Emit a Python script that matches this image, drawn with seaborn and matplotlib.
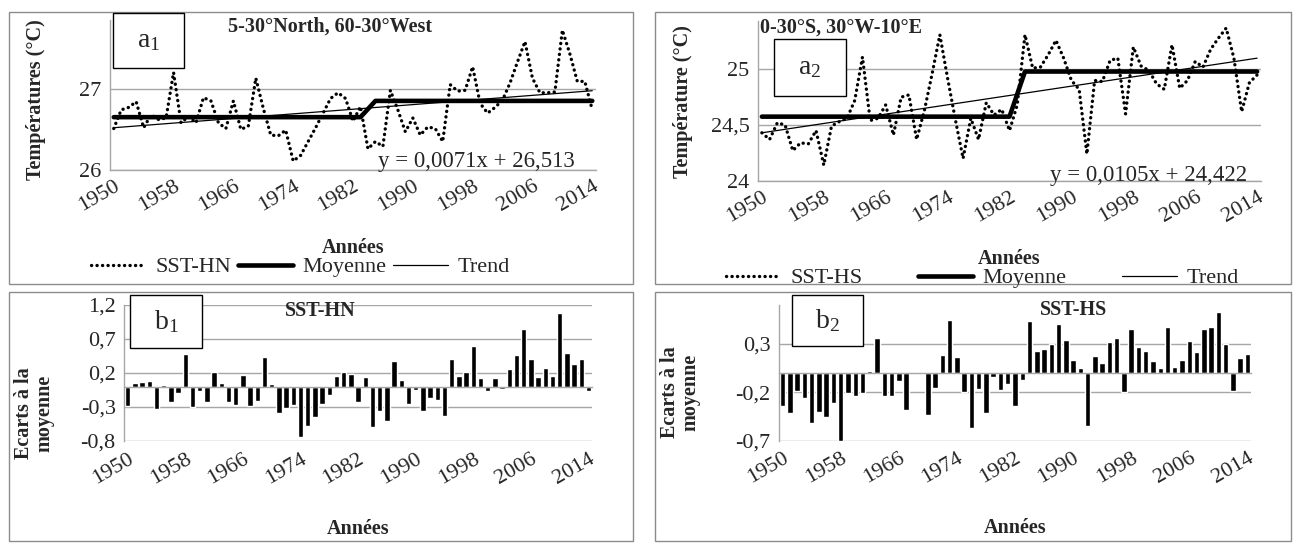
import numpy as np
import matplotlib
matplotlib.use("Agg")
import matplotlib.pyplot as plt
import seaborn as sns
from matplotlib.patches import Rectangle

# ---------------- data ----------------
years = list(range(1950, 2015))
label_years = list(range(1950, 2015, 8))

sst_hn = [26.51, 26.74, 26.77, 26.84, 26.52, 26.68, 26.62, 26.64, 27.20, 26.58,
          26.66, 26.58, 26.89, 26.85, 26.58, 26.51, 26.85, 26.50, 26.54, 27.13,
          26.76, 26.43, 26.42, 26.49, 26.11, 26.18, 26.35, 26.52, 26.70, 26.88,
          26.95, 26.88, 26.60, 26.78, 26.26, 26.35, 26.29, 26.98, 26.74, 26.47,
          26.64, 26.43, 26.53, 26.51, 26.35, 27.05, 26.97, 26.98, 27.27, 26.82,
          26.70, 26.77, 26.86, 27.07, 27.33, 27.58, 27.13, 26.95, 26.95, 26.96,
          27.72, 27.43, 27.09, 27.09, 26.74]

sst_hs = [24.43, 24.37, 24.52, 24.50, 24.27, 24.34, 24.33, 24.45, 24.14, 24.49,
          24.53, 24.56, 24.72, 25.11, 24.54, 24.56, 24.68, 24.41, 24.75, 24.77,
          24.37, 24.63, 24.96, 25.31, 24.92, 24.55, 24.20, 24.56, 24.37, 24.70,
          24.59, 24.64, 24.45, 24.68, 25.31, 25.01, 25.02, 25.13, 25.26, 25.10,
          24.90, 24.82, 24.24, 24.90, 24.89, 25.08, 25.10, 24.60, 25.20, 25.03,
          24.99, 24.87, 24.82, 25.22, 24.83, 24.90, 25.07, 25.02, 25.18, 25.28,
          25.37, 25.10, 24.62, 24.88, 24.95]

ecart_hn = [-0.28, 0.06, 0.07, 0.08, -0.33, 0.02, -0.22, -0.10, 0.48, -0.30,
            -0.07, -0.23, 0.22, 0.06, -0.22, -0.27, 0.17, -0.29, -0.21, 0.44,
            0.04, -0.39, -0.32, -0.27, -0.74, -0.58, -0.45, -0.25, -0.13, 0.16,
            0.21, 0.18, -0.23, 0.14, -0.60, -0.36, -0.50, 0.38, 0.09, -0.25,
            -0.05, -0.36, -0.17, -0.20, -0.43, 0.41, 0.15, 0.21, 0.60, 0.12,
            -0.07, 0.12, -0.03, 0.26, 0.47, 0.84, 0.41, 0.14, 0.27, 0.15,
            1.08, 0.50, 0.33, 0.40, -0.06]

ecart_hs = [-0.34, -0.41, -0.19, -0.26, -0.52, -0.40, -0.46, -0.31, -0.70, -0.21,
            -0.24, -0.21, 0.02, 0.36, -0.24, -0.24, -0.08, -0.38, -0.01, 0.01,
            -0.43, -0.15, 0.19, 0.55, 0.17, -0.20, -0.57, -0.17, -0.41, -0.04,
            -0.18, -0.11, -0.34, -0.07, 0.54, 0.23, 0.25, 0.30, 0.51, 0.34,
            0.13, 0.055, -0.55, 0.18, 0.10, 0.32, 0.36, -0.20, 0.46, 0.27,
            0.23, 0.12, 0.05, 0.48, 0.06, 0.13, 0.33, 0.22, 0.45, 0.48,
            0.63, 0.30, -0.19, 0.15, 0.20]

moy_hn_years = [1950, 1983, 1985, 2014]
moy_hn_vals = [26.65, 26.65, 26.85, 26.85]
moy_hs_years = [1950, 1982, 1984, 2014]
moy_hs_vals = [24.575, 24.575, 24.98, 24.98]

trend_years = [1950, 2014]
trend_hn = [26.52, 26.975]
trend_hs = [24.43, 25.10]

a1_yticks = [26, 27]
a1_yticklabels = ["26", "27"]
a2_yticks = [24, 24.5, 25]
a2_yticklabels = ["24", "24,5", "25"]
b1_yticks = [-0.8, -0.3, 0.2, 0.7, 1.2]
b1_yticklabels = ["-0,8", "-0,3", "0,2", "0,7", "1,2"]
b2_yticks = [-0.7, -0.2, 0.3]
b2_yticklabels = ["-0,7", "-0,2", "0,3"]

# ---------------- style ----------------
sns.set_style("white")
plt.rcParams["font.family"] = ["Liberation Serif", "DejaVu Serif"]
plt.rcParams["mathtext.fontset"] = "custom"
plt.rcParams["mathtext.rm"] = "Liberation Serif"
plt.rcParams["axes.unicode_minus"] = False

W, H = 1296, 545
fig = plt.figure(figsize=(W / 100, H / 100), dpi=100)
fig.patch.set_facecolor("white")

GRID = "#a6a6a6"
AXC = "#a6a6a6"
FRAME = "#8c8c8c"
TICKFS = 16
LABFS = 14.5


def rect(x0, y0, x1, y1):
    return [x0 / W, 1 - y1 / H, (x1 - x0) / W, (y1 - y0) / H]


def fx(x):
    return x / W


def fy(y):
    return 1 - y / H


# chart-area frames
for (x0, y0, x1, y1) in [(9, 12, 633, 284), (655, 12, 1291, 284),
                         (9, 292, 633, 541), (655, 292, 1291, 541)]:
    fig.add_artist(Rectangle((fx(x0), fy(y1)), (x1 - x0) / W, (y1 - y0) / H,
                             transform=fig.transFigure, fill=False,
                             ec=FRAME, lw=1, zorder=-1))


def style_common(ax):
    for s in ["top", "right"]:
        ax.spines[s].set_visible(False)
    ax.spines["left"].set_color(AXC)
    ax.spines["bottom"].set_color(AXC)
    ax.spines["left"].set_linewidth(1)
    ax.spines["bottom"].set_linewidth(1)
    ax.yaxis.grid(True, color=GRID, lw=1)
    ax.xaxis.grid(False)
    ax.set_axisbelow(True)
    ax.set_facecolor("none")
    ax.tick_params(axis="y", length=0, labelsize=TICKFS, pad=6)


def line_panel(px, sst, sst_label, moy_y, moy_v, trend_v, ylim, yt, ytl, xlab_y):
    ax = fig.add_axes(rect(*px))
    sns.lineplot(x=years, y=sst, ax=ax, color="black", lw=2.4,
                 linestyle=(0, (0.05, 1.6)), dash_capstyle="round",
                 label=sst_label, legend=False)
    sns.lineplot(x=moy_y, y=moy_v, ax=ax, color="black", lw=3.3,
                 label="Moyenne", legend=False)
    sns.lineplot(x=trend_years, y=trend_v, ax=ax, color="black", lw=0.9,
                 label="Trend", legend=False)
    ax.set_xlim(1949.5, 2014.5)
    ax.set_ylim(*ylim)
    ax.set_yticks(yt, ytl)
    ax.set_xticks(label_years, [str(y) for y in label_years])
    ax.set_xticks(np.arange(1949.5, 2015, 1), minor=True)
    style_common(ax)
    ax.tick_params(axis="x", which="major", length=0, labelsize=TICKFS, pad=5)
    ax.tick_params(axis="x", which="minor", length=5, color=AXC, width=1,
                   direction="out")
    for t in ax.get_xticklabels():
        t.set_rotation(30)
        t.set_ha("right")
        t.set_rotation_mode("anchor")
    ax.set_ylabel("")
    ax.set_xlabel("Années", fontsize=LABFS, fontweight="bold")
    ax.xaxis.set_label_coords(0.5, xlab_y)
    return ax


def bar_panel(px, vals, ylim, yt, ytl, xlab_y):
    ax = fig.add_axes(rect(*px))
    ax.set_zorder(2)
    sns.barplot(x=years, y=vals, ax=ax, color="black", saturation=1,
                width=0.75, errorbar=None)
    ax.set_xlim(-0.5, 64.5)
    ax.set_ylim(*ylim)
    ax.set_yticks(yt, ytl)
    style_common(ax)
    ax.spines["bottom"].set_position(("data", 0))
    ax.set_xticks(list(range(0, 65, 8)))
    ax.set_xticks(np.arange(-0.5, 65, 1), minor=True)
    ax.tick_params(axis="x", which="major", length=0, labelbottom=False)
    ax.tick_params(axis="x", which="minor", length=6, color=AXC, width=1,
                   direction="out")
    sec = ax.secondary_xaxis("bottom")
    sec.set_ticks(list(range(0, 65, 8)), [str(y) for y in label_years])
    sec.tick_params(length=0, labelsize=TICKFS, pad=6)
    sec.spines["bottom"].set_visible(False)
    for t in sec.get_xticklabels():
        t.set_rotation(30)
        t.set_ha("right")
        t.set_rotation_mode("anchor")
    ax.set_ylabel("")
    ax.set_xlabel("Années", fontsize=LABFS, fontweight="bold")
    ax.xaxis.set_label_coords(0.5, xlab_y)
    return ax


ax_a1 = line_panel((110, 19.6, 596, 170), sst_hn, "SST-HN", moy_hn_years, moy_hn_vals,
                   trend_hn, (26, 27.85), a1_yticks, a1_yticklabels, -0.45)
ax_a2 = line_panel((758, 21.4, 1261, 180.7), sst_hs, "SST-HS", moy_hs_years, moy_hs_vals,
                   trend_hs, (24, 25.43), a2_yticks, a2_yticklabels, -0.43)
ax_b1 = bar_panel((124, 305, 592, 441), ecart_hn, (-0.8, 1.2), b1_yticks,
                  b1_yticklabels, -0.57)
ax_b2 = bar_panel((779, 305.3, 1251, 440.7), ecart_hs, (-0.7, 0.7), b2_yticks,
                  b2_yticklabels, -0.57)

# legends
fig.legend(handles=ax_a1.get_lines()[:3], labels=["SST-HN", "Moyenne", "Trend"],
           loc="center", bbox_to_anchor=(fx(300), fy(267)), ncol=3, frameon=False,
           fontsize=16, handlelength=2.5, handletextpad=0.4, columnspacing=0.3)
fig.legend(handles=ax_a2.get_lines()[:3], labels=["SST-HS", "Moyenne", "Trend"],
           loc="center", bbox_to_anchor=(fx(982), fy(278)), ncol=3, frameon=False,
           fontsize=16, handlelength=2.5, handletextpad=0.4, columnspacing=2.5)

# y labels
fig.text(fx(36), fy(100), "Températures (°C)", rotation=90, ha="center", va="center",
         fontsize=LABFS, fontweight="bold")
fig.text(fx(683), fy(102), "Température (°C)", rotation=90, ha="center", va="center",
         fontsize=LABFS, fontweight="bold")
fig.text(fx(34), fy(413), "Ecarts à la\nmoyenne", rotation=90, ha="center", va="center",
         fontsize=LABFS, fontweight="bold", multialignment="center", linespacing=1.0)
fig.text(fx(680), fy(392), "Ecarts à la\nmoyenne", rotation=90, ha="center", va="center",
         fontsize=LABFS, fontweight="bold", multialignment="center", linespacing=1.0)

# titles
fig.text(fx(330), fy(27), "5-30°North, 60-30°West", ha="center", va="center",
         fontsize=14.5, fontweight="bold")
fig.text(fx(760), fy(28), "0-30°S, 30°W-10°E", ha="left", va="center",
         fontsize=14.5, fontweight="bold")
fig.text(fx(320), fy(311), "SST-HN", ha="center", va="center",
         fontsize=14.5, fontweight="bold", zorder=8)
fig.text(fx(1074), fy(310), "SST-HS", ha="center", va="center",
         fontsize=14.5, fontweight="bold", zorder=8)

# trend equations
fig.text(fx(575), fy(167), "y = 0,0071x + 26,513", ha="right", va="baseline",
         fontsize=16.5)
fig.text(fx(1247), fy(181), "y = 0,0105x + 24,422", ha="right", va="baseline",
         fontsize=16.5)

# panel label boxes
for (x0, y0, x1, y1, txt) in [(113, 13, 184, 68, r"$\mathregular{a_1}$"),
                              (774, 39, 846, 96, r"$\mathregular{a_2}$"),
                              (130, 295, 202, 348, r"$\mathregular{b_1}$"),
                              (792, 295, 863, 346, r"$\mathregular{b_2}$")]:
    fig.add_artist(Rectangle((fx(x0), fy(y1)), (x1 - x0) / W, (y1 - y0) / H,
                             transform=fig.transFigure, fc="white", ec="black",
                             lw=1, zorder=9))
    fig.text(fx((x0 + x1) / 2), fy((y0 + y1) / 2), txt, ha="center", va="center",
             fontsize=20, zorder=10)

fig.savefig("out.png", dpi=100)
